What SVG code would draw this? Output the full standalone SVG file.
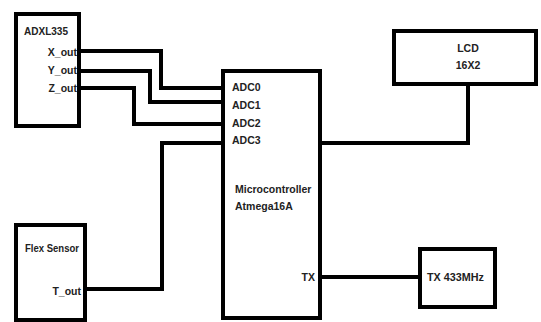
<svg xmlns="http://www.w3.org/2000/svg" width="541" height="322" viewBox="0 0 541 322">
<style>
.box{fill:#fff;stroke:#000;stroke-width:4}
.w{fill:none;stroke:#000;stroke-width:4;stroke-linejoin:miter;stroke-linecap:butt}
text{font-family:"Liberation Sans",Arial,sans-serif;font-weight:bold;font-size:10.5px;fill:#222}
</style>
<rect width="541" height="322" fill="#fff"/>
<g id="connectors">
<polyline class="w" points="80,51 161,51 161,88 223,88"/>
<polyline class="w" points="80,71 150,71 150,102 223,102"/>
<polyline class="w" points="80,88 134,88 134,124 223,124"/>
<polyline class="w" points="86,289 162,289 162,143 223,143"/>
<polyline class="w" points="321,143 468,143 468,85"/>
<polyline class="w" points="321,277 420,277"/>
</g>
<g id="adxl335">
<rect class="box" x="16" y="14" width="63" height="112"/>
<text x="24" y="35" textLength="44" lengthAdjust="spacingAndGlyphs">ADXL335</text>
<text x="77" y="56" text-anchor="end">X_out</text>
<text x="77" y="74" text-anchor="end">Y_out</text>
<text x="77" y="92" text-anchor="end">Z_out</text>
</g>
<g id="flex">
<rect class="box" x="16" y="225" width="69" height="95"/>
<text x="25" y="252" textLength="54" lengthAdjust="spacingAndGlyphs">Flex Sensor</text>
<text x="81" y="295" text-anchor="end">T_out</text>
</g>
<g id="mcu">
<rect class="box" x="223" y="71" width="97" height="247"/>
<text x="232" y="91">ADC0</text>
<text x="232" y="109">ADC1</text>
<text x="232" y="127">ADC2</text>
<text x="232" y="144">ADC3</text>
<text x="235" y="193">Microcontroller</text>
<text x="235" y="210">Atmega16A</text>
<text x="315" y="281" text-anchor="end">TX</text>
</g>
<g id="lcd">
<rect class="box" x="394" y="31" width="142" height="53"/>
<text x="468" y="52" text-anchor="middle">LCD</text>
<text x="468" y="69" text-anchor="middle">16X2</text>
</g>
<g id="tx433">
<rect class="box" x="420" y="249" width="75" height="58"/>
<text x="427" y="281" textLength="57" lengthAdjust="spacingAndGlyphs">TX 433MHz</text>
</g>
</svg>
